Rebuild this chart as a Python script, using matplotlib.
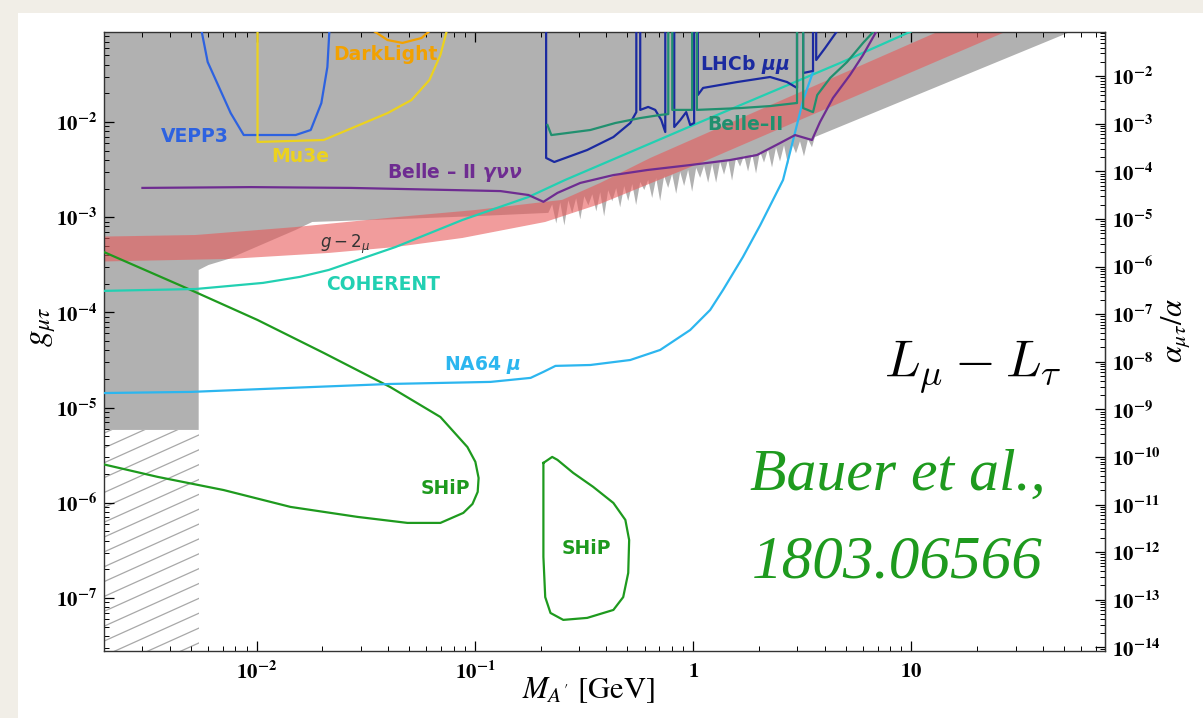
import numpy as np
import matplotlib
matplotlib.use('Agg')
import matplotlib.pyplot as plt
from matplotlib.ticker import LogLocator, FixedLocator, FuncFormatter, NullFormatter

W, H = 1203, 718
ALPHA_EM = 1 / 137.036

# ---- values: M_A' in GeV, g_mu_tau ----
gray_M = [1.5e-3, 1.5e-3, 5.43e-3, 5.43e-3, 6.03e-3, 7.44e-3, 1.51e-2, 1.80e-2, 4.56e-2, 0.106, 0.217]
gray_g = [0.3, 5.82e-6, 5.82e-6, 2.79e-4, 3.15e-4, 3.64e-4, 7.34e-4, 8.91e-4, 9.57e-4, 1.03e-3, 1.11e-3]
# jagged lower edge of the excluded region (alternating base / spike tip)
spike_M = [0.226, 0.236, 0.246, 0.257, 0.268, 0.279, 0.291, 0.304, 0.317, 0.331, 0.345, 0.360,
           0.375, 0.391, 0.408, 0.426, 0.444, 0.463, 0.483, 0.504, 0.526, 0.548, 0.572, 0.597,
           0.622, 0.649, 0.677, 0.706, 0.736, 0.768, 0.801, 0.836, 0.872, 0.909, 0.948, 0.989,
           1.032, 1.076, 1.122, 1.171, 1.221, 1.274, 1.328, 1.385, 1.445, 1.507, 1.572, 1.640,
           1.711, 1.784, 1.861, 1.941, 2.024, 2.111, 2.202, 2.297, 2.396, 2.499, 2.607, 2.719,
           2.836, 2.958, 3.085, 3.218, 3.357, 3.501]
spike_g = [1.36e-3, 8.59e-4, 1.43e-3, 8.19e-4, 1.50e-3, 1.10e-3, 1.58e-3, 9.49e-4, 1.66e-3, 1.33e-3,
           1.74e-3, 1.15e-3, 1.83e-3, 1.02e-3, 1.92e-3, 1.47e-3, 2.02e-3, 1.27e-3, 2.12e-3, 1.48e-3,
           2.23e-3, 1.34e-3, 2.34e-3, 1.93e-3, 2.46e-3, 1.59e-3, 2.58e-3, 1.48e-3, 2.71e-3, 2.03e-3,
           2.85e-3, 1.76e-3, 2.99e-3, 2.13e-3, 3.14e-3, 1.85e-3, 3.30e-3, 2.59e-3, 3.47e-3, 2.30e-3,
           3.64e-3, 2.30e-3, 3.83e-3, 2.80e-3, 4.02e-3, 2.42e-3, 4.22e-3, 3.40e-3, 4.44e-3, 3.02e-3,
           4.66e-3, 2.87e-3, 4.90e-3, 3.75e-3, 5.14e-3, 3.33e-3, 5.40e-3, 3.85e-3, 5.68e-3, 3.59e-3,
           5.96e-3, 4.69e-3, 6.27e-3, 4.36e-3, 6.58e-3, 5.43e-3]
gray_end_M = [3.61, 53.1, 100.0, 100.0]
gray_end_g = [6.95e-3, 8.8e-2, 0.3, 0.3]

hatch_M = [1.5e-3, 5.43e-3]
hatch_g = [1e-8, 5.82e-6]

g2_M = [1.5e-3, 5.26e-3, 1.51e-2, 4.33e-2, 0.1005, 0.251, 0.375, 0.636, 1.82, 13.1, 14.9,
        30.4, 26.8, 3.09, 1.08, 0.375, 0.210, 8.77e-2, 4.33e-2, 2.14e-2, 7.44e-3, 1.5e-3]
g2_g = [6.19e-4, 6.50e-4, 7.88e-4, 1.00e-3, 1.19e-3, 1.52e-3, 2.29e-3, 4.19e-3, 1.21e-2, 8.8e-2, 0.1,
        0.1, 8.8e-2, 1.05e-2, 3.71e-3, 1.38e-3, 8.91e-4, 6.05e-4, 4.86e-4, 4.21e-4, 3.64e-4, 3.38e-4]

ship1_M = [1.95e-3, 4.99e-3, 1.01e-2, 2.03e-2, 4.10e-2, 6.95e-2, 9.24e-2, 0.1005, 0.104, 0.103,
           0.0975, 8.85e-2, 6.95e-2, 4.91e-2, 2.90e-2, 1.43e-2, 7.06e-3, 3.52e-3, 1.95e-3]
ship1_g = [4.41e-4, 1.72e-4, 8.32e-5, 3.75e-5, 1.64e-5, 7.96e-6, 3.85e-6, 2.69e-6, 1.82e-6, 1.30e-6,
           9.71e-7, 7.82e-7, 6.14e-7, 6.14e-7, 7.10e-7, 9.04e-7, 1.36e-6, 1.87e-6, 2.56e-6]

ship2_M = [0.206, 0.226, 0.239, 0.282, 0.348, 0.431, 0.489, 0.509, 0.504, 0.478, 0.431, 0.327,
           0.254, 0.222, 0.210, 0.206, 0.206, 0.206]
ship2_g = [2.62e-6, 3.03e-6, 2.82e-6, 2.06e-6, 1.47e-6, 9.95e-7, 6.60e-7, 4.06e-7, 1.83e-7, 1.02e-7,
           7.48e-8, 6.17e-8, 5.88e-8, 6.95e-8, 1.02e-7, 2.70e-7, 9.04e-7, 2.62e-6]

coherent_M = [1.95e-3, 5.26e-3, 1.07e-2, 1.58e-2, 2.14e-2, 4.33e-2, 8.77e-2, 0.176, 0.259, 1.08, 4.71, 11.1]
coherent_g = [1.68e-4, 1.76e-4, 2.04e-4, 2.36e-4, 2.79e-4, 4.86e-4, 9.35e-4, 1.63e-3, 2.46e-3, 1.0e-2, 4.17e-2, 0.1]

na64_M = [1.95e-3, 4.99e-3, 1.43e-2, 4.10e-2, 0.118, 0.180, 0.206, 0.234, 0.338, 0.515, 0.706,
          0.969, 1.196, 1.37, 1.69, 2.03, 2.58, 2.87, 3.19, 3.54]
na64_g = [1.42e-5, 1.46e-5, 1.61e-5, 1.77e-5, 1.86e-5, 2.05e-5, 2.37e-5, 2.74e-5, 2.80e-5, 3.16e-5,
          4.03e-5, 6.53e-5, 1.06e-4, 1.72e-4, 3.82e-4, 8.28e-4, 2.46e-3, 6.47e-3, 1.70e-2, 3.35e-2]

bgnn_M = [3.0e-3, 9.4e-3, 2.7e-2, 7.7e-2, 0.131, 0.176, 0.206, 0.239, 0.304, 0.431, 0.616, 0.969,
          1.48, 1.96, 2.50, 2.93, 3.50, 3.81, 4.37, 5.23, 6.00, 7.1]
bgnn_g = [2.03e-3, 2.07e-3, 2.03e-3, 1.93e-3, 1.88e-3, 1.71e-3, 1.45e-3, 1.80e-3, 2.29e-3, 2.77e-3,
          3.13e-3, 3.53e-3, 3.99e-3, 4.50e-3, 6.01e-3, 7.29e-3, 6.47e-3, 1.0e-2, 1.79e-2, 3.12e-2, 5.06e-2, 0.1]

vepp3_M = [5.55e-3, 5.97e-3, 7.61e-3, 8.73e-3, 1.51e-2, 1.77e-2, 1.98e-2, 2.11e-2, 2.16e-2]
vepp3_g = [0.1, 4.27e-2, 1.24e-2, 7.30e-3, 7.30e-3, 8.24e-3, 1.58e-2, 3.78e-2, 0.1]

mu3e_M = [1.01e-2, 1.01e-2, 2.03e-2, 3.98e-2, 5.12e-2, 6.19e-2, 6.95e-2, 7.52e-2]
mu3e_g = [0.1, 6.17e-3, 6.47e-3, 1.24e-2, 1.70e-2, 2.76e-2, 5.06e-2, 0.1]

darklight_M = [3.22e-2, 3.98e-2, 4.66e-2, 5.69e-2, 6.53e-2]
darklight_g = [0.1, 7.26e-2, 6.77e-2, 7.62e-2, 0.1]

lhcb_M = [0.212, 0.212, 0.231, 0.327, 0.431, 0.515, 0.549, 0.549, 0.572, 0.572, 0.622, 0.670, 0.714,
          0.745, 0.745, 0.819, 0.819, 0.873, 0.929, 0.969, 1.01, 1.01, 1.05, 1.05, 1.11, 1.59, 2.25,
          2.69, 2.99, 2.99, 3.19, 3.19, 3.54, 3.54, 3.66, 3.66, 4.02, 4.71]
lhcb_g = [0.1, 4.19e-3, 3.80e-3, 5.08e-3, 6.95e-3, 9.76e-3, 1.27e-2, 0.1, 0.1, 1.34e-2, 1.44e-2,
          1.34e-2, 1.05e-2, 7.85e-3, 0.1, 0.1, 8.86e-3, 1.05e-2, 1.27e-2, 9.30e-3, 9.76e-3, 0.1, 0.1,
          1.92e-2, 2.28e-2, 2.63e-2, 2.97e-2, 2.63e-2, 2.28e-2, 0.1, 0.1, 3.27e-2, 3.44e-2, 0.1, 0.1,
          4.48e-2, 5.98e-2, 0.1]

belle2_M = [0.215, 0.224, 0.338, 0.440, 0.572, 0.714, 0.769, 0.769, 0.802, 0.802, 0.989, 0.989, 1.04,
            1.04, 1.64, 2.25, 2.96, 2.99, 2.99, 3.19, 3.19, 3.54, 3.70, 4.24, 5.07, 6.00, 6.67, 6.88]
belle2_g = [9.30e-3, 7.29e-3, 8.24e-3, 9.76e-3, 1.10e-2, 1.19e-2, 1.21e-2, 0.1, 0.1, 1.34e-2, 1.34e-2,
            0.1, 0.1, 1.34e-2, 1.40e-2, 1.47e-2, 1.58e-2, 1.58e-2, 0.1, 0.1, 1.40e-2, 1.27e-2, 1.92e-2,
            2.90e-2, 4.27e-2, 6.77e-2, 8.8e-2, 0.1]

x_ticks = [1e-2, 1e-1, 1, 10]
y_ticks = [1e-7, 1e-6, 1e-5, 1e-4, 1e-3, 1e-2]
alpha_ticks = [1e-14, 1e-13, 1e-12, 1e-11, 1e-10, 1e-9, 1e-8, 1e-7, 1e-6, 1e-5, 1e-4, 1e-3, 1e-2]

C_GRAY = '#b1b1b1'
C_PINK = '#e85a5a'
C_SHIP = '#1e9a1e'
C_COH = '#22d0b2'
C_NA64 = '#2cb6ef'
C_BGNN = '#6e2c91'
C_VEPP = '#2d62e0'
C_MU3E = '#ecd21e'
C_DL = '#f2a100'
C_LHCB = '#1b2aa0'
C_B2 = '#21906f'

plt.rcParams['mathtext.fontset'] = 'stix'
plt.rcParams['mathtext.rm'] = 'DejaVu Sans:bold'
plt.rcParams['mathtext.it'] = 'DejaVu Sans:italic:bold'
plt.rcParams['mathtext.bf'] = 'DejaVu Sans:bold'
plt.rcParams['mathtext.sf'] = 'DejaVu Sans:bold'

fig = plt.figure(figsize=(W / 100, H / 100), dpi=100)
fig.patch.set_facecolor('#f1eee7')
fig.add_artist(plt.Rectangle((18 / W, 0), 1, 1 - 13 / H, transform=fig.transFigure,
                             facecolor='white', edgecolor='none', zorder=-5))

ax = fig.add_axes([104 / W, 1 - 651 / H, 1001 / W, 619 / H])
ax.set_xscale('log')
ax.set_yscale('log')
ax.set_xlim(2.0e-3, 77)
ax.set_ylim(2.77e-8, 0.0882)

# excluded region
ax.fill(gray_M + spike_M + gray_end_M, gray_g + spike_g + gray_end_g,
        color=C_GRAY, lw=0, zorder=1)

# hatched box at low mass
box = ax.fill([hatch_M[0], hatch_M[1], hatch_M[1], hatch_M[0]],
              [hatch_g[0], hatch_g[0], hatch_g[1], hatch_g[1]],
              facecolor='white', edgecolor='none', zorder=1)[0]
slope = 0.45 * 1001 / 619
for c in np.arange(-0.2, 0.45, 0.024):
    ln, = ax.plot([0, 0.2], [c, c + 0.2 * slope], transform=ax.transAxes,
                  color='#a8a8a8', lw=0.9, zorder=1.5)
    ln.set_clip_path(box)

# g-2 band
ax.fill(g2_M, g2_g, color=C_PINK, alpha=0.6, lw=0, zorder=2)

lw = 1.6
ax.plot(ship1_M, ship1_g, color=C_SHIP, lw=lw, zorder=3)
ax.plot(ship2_M, ship2_g, color=C_SHIP, lw=lw, zorder=3)
ax.plot(coherent_M, coherent_g, color=C_COH, lw=lw, zorder=3)
ax.plot(na64_M, na64_g, color=C_NA64, lw=lw, zorder=3)
ax.plot(vepp3_M, vepp3_g, color=C_VEPP, lw=lw, zorder=3)
ax.plot(mu3e_M, mu3e_g, color=C_MU3E, lw=lw, zorder=3)
ax.plot(darklight_M, darklight_g, color=C_DL, lw=lw, zorder=3)
ax.plot(lhcb_M, lhcb_g, color=C_LHCB, lw=lw, zorder=3)
ax.plot(belle2_M, belle2_g, color=C_B2, lw=lw, zorder=3)
ax.plot(bgnn_M, bgnn_g, color=C_BGNN, lw=lw, zorder=3)


def tick_fmt(v, pos):
    e = int(round(np.log10(v)))
    if e == 0:
        return r'$\mathbf{1}$'
    if e == 1:
        return r'$\mathbf{10}$'
    return r'$\mathbf{10^{%d}}$' % e


ax.xaxis.set_major_locator(FixedLocator(x_ticks))
ax.yaxis.set_major_locator(FixedLocator(y_ticks))
for axis in (ax.xaxis, ax.yaxis):
    axis.set_minor_locator(LogLocator(base=10, subs=np.arange(2, 10), numticks=200))
    axis.set_major_formatter(FuncFormatter(tick_fmt))
    axis.set_minor_formatter(NullFormatter())
ax.tick_params(which='both', direction='in', top=True, right=False, labelsize=15)
ax.tick_params(which='major', length=7, width=0.9)
ax.tick_params(which='minor', length=3.5, width=0.7)
ax.tick_params(axis='x', pad=7)
ax.tick_params(axis='y', pad=5)

sec = ax.secondary_yaxis('right', functions=(lambda g: g ** 2 / (4 * np.pi * ALPHA_EM),
                                             lambda a: np.sqrt(np.abs(a) * 4 * np.pi * ALPHA_EM)))
sec.yaxis.set_major_locator(FixedLocator(alpha_ticks))
sec.yaxis.set_minor_locator(LogLocator(base=10, subs=np.arange(2, 10), numticks=300))
sec.yaxis.set_major_formatter(FuncFormatter(tick_fmt))
sec.yaxis.set_minor_formatter(NullFormatter())
sec.tick_params(which='both', direction='in', labelsize=15, pad=5)
sec.tick_params(which='major', length=7, width=0.9)
sec.tick_params(which='minor', length=3.5, width=0.7)

for sp in ax.spines.values():
    sp.set_linewidth(1.0)
    sp.set_color('#333333')


def label(x, y, s, color, size=13.5):
    fig.text(x / W, 1 - y / H, s, color=color, fontsize=size, fontweight='bold',
             ha='center', va='center', math_fontfamily='custom')


label(195, 136, 'VEPP3', C_VEPP)
label(300, 156, 'Mu3e', C_MU3E)
label(385, 55, 'DarkLight', C_DL)
label(455, 173, 'Belle \u2013 II $\\gamma\\nu\\nu$', C_BGNN)
label(383, 284, 'COHERENT', C_COH)
label(483, 365, 'NA64 $\\mu$', C_NA64)
label(445, 489, 'SHiP', C_SHIP)
label(586, 549, 'SHiP', C_SHIP)
label(745, 64, 'LHCb $\\mu\\mu$', C_LHCB)
label(745, 125, 'Belle\u2013II', C_B2)
fig.text(345 / W, 1 - 244 / H, r'$g-2_{\mu}$', color='#333333', fontsize=12,
         ha='center', va='center', math_fontfamily='dejavusans')

fig.text(1062 / W, 1 - 377 / H, r'$L_\mu - L_\tau$', fontsize=38, color='black',
         ha='right', va='baseline', math_fontfamily='cm')
fig.text(750 / W, 1 - 490 / H, 'Bauer et al.,', fontsize=43, color=C_SHIP,
         family='Liberation Serif', style='italic', ha='left', va='baseline')
fig.text(752 / W, 1 - 577 / H, '1803.06566', fontsize=44, color=C_SHIP,
         family='Liberation Serif', style='italic', ha='left', va='baseline')

fig.text(588 / W, 1 - 690 / H, r'$M_{A^{\prime}}\ [\mathrm{GeV}]$', fontsize=22,
         ha='center', va='center')
fig.text(42 / W, 1 - 327 / H, r'$g_{\mu\tau}$', fontsize=24, rotation=90,
         ha='center', va='center')
fig.text(1176 / W, 1 - 330 / H, r'$\alpha_{\mu\tau}/\alpha$', fontsize=22, rotation=90,
         ha='center', va='center')

fig.savefig('out.png', dpi=100, facecolor=fig.get_facecolor())
